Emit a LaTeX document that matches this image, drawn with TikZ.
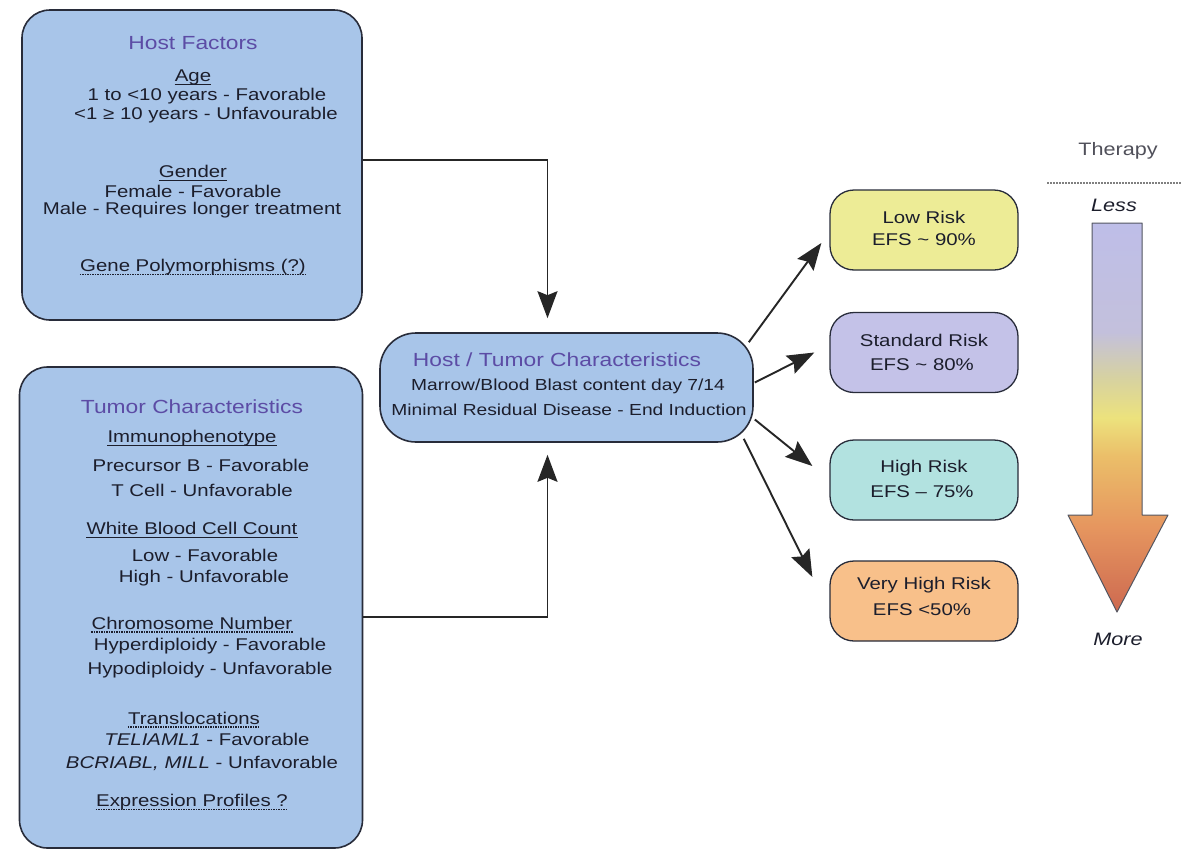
\documentclass[tikz,border=0pt]{standalone}
\usepackage{fontspec}
\setmainfont{Liberation Sans}[FakeStretch=1.2]
\usetikzlibrary{arrows.meta,calc}
\definecolor{boxblue}{RGB}{168,197,233}
\definecolor{edge}{RGB}{40,44,58}
\definecolor{ink}{RGB}{28,30,44}
\definecolor{ttl}{RGB}{92,76,165}
\definecolor{lowc}{RGB}{237,236,150}
\definecolor{stdc}{RGB}{196,194,232}
\definecolor{highc}{RGB}{178,226,224}
\definecolor{vhc}{RGB}{248,192,138}
\definecolor{thgray}{RGB}{80,80,90}
\pgfdeclareverticalshading{therapyshade}{100bp}{%
 color(0bp)=(rgb,255:red,205;green,105;blue,80);
 color(25bp)=(rgb,255:red,205;green,105;blue,80);
 color(36bp)=(rgb,255:red,230;green,150;blue,95);
 color(45bp)=(rgb,255:red,235;green,190;blue,105);
 color(50bp)=(rgb,255:red,236;green,226;blue,125);
 color(55bp)=(rgb,255:red,215;green,210;blue,160);
 color(61bp)=(rgb,255:red,195;green,192;blue,220);
 color(75bp)=(rgb,255:red,190;green,190;blue,232);
 color(100bp)=(rgb,255:red,190;green,190;blue,232)}
\tikzset{
 bluebox/.style={draw=edge, line width=1.6pt, fill=boxblue, rounded corners=28pt, inner sep=0pt},
 riskbox/.style={draw=edge, line width=1.3pt, rounded corners=24pt, inner sep=0pt, minimum width=188pt, minimum height=80pt},
 txt/.style={text=ink, inner sep=0pt, font=\fontsize{17}{19}\selectfont},
 ctxt/.style={text=ink, inner sep=0pt, font=\fontsize{16}{18}\selectfont},
 rtxt/.style={text=ink, inner sep=0pt, font=\fontsize{17}{19}\selectfont},
 title/.style={text=ttl, inner sep=0pt, font=\fontsize{19}{21}\selectfont},
 conn/.style={draw=black!85, line width=1.9pt, -{Stealth[length=27pt,width=20pt,inset=4pt]}},
 solidul/.style={draw=ink, line width=1pt},
 dotul/.style={draw=ink, line width=1.2pt, dash pattern=on 1.2pt off 1.3pt},
}
\begin{document}
\begin{tikzpicture}[x=1pt,y=-1pt]
\useasboundingbox[fill=white] (0,0) rectangle (1181,857);
% boxes
\node[bluebox, minimum width=340pt, minimum height=310pt] (host) at (192,165) {};
\node[bluebox, minimum width=343pt, minimum height=481pt] (tumor) at (191,607.5) {};
\node[bluebox, rounded corners=36pt, minimum width=373pt, minimum height=109pt] (center) at (566.5,387.5) {};
\node[riskbox, fill=lowc] (low) at (924,230) {};
\node[riskbox, fill=stdc] (std) at (924,352.5) {};
\node[riskbox, fill=highc] (high) at (924,480) {};
\node[riskbox, fill=vhc] (vh) at (924,601) {};
% host texts
\node[title] (h0) at (193,43) {Host Factors};
\node[txt] (h1) at (193,77) {Age};
\node[txt] (h2) at (207,96) {1 to <10 years - Favorable};
\node[txt] (h3) at (206,115) {<1 ≥ 10 years - Unfavourable};
\node[txt] (h4) at (193,171) {Gender};
\node[txt] (h5) at (193,191) {Female - Favorable};
\node[txt] (h6) at (192,210) {Male - Requires longer treatment};
\node[txt] (h7) at (193,267) {Gene Polymorphisms (?)};
% tumor texts
\node[title] (t0) at (192,407) {Tumor Characteristics};
\node[txt] (t1) at (192,438) {Immunophenotype};
\node[txt] (t2) at (201,465) {Precursor B - Favorable};
\node[txt] (t3) at (202,490) {T Cell - Unfavorable};
\node[txt] (t4) at (192,528) {White Blood Cell Count};
\node[txt] (t5) at (205,555) {Low - Favorable};
\node[txt] (t6) at (204,578) {High - Unfavorable};
\node[txt] (t7) at (192,623) {Chromosome Number};
\node[txt] (t8) at (210,646) {Hyperdiploidy - Favorable};
\node[txt] (t9) at (210,670) {Hypodiploidy - Unfavorable};
\node[txt] (t10) at (194,718) {Translocations};
\node[txt] (t11) at (207,739) {\textit{TELIAML1} - Favorable};
\node[txt] (t12) at (202,763) {\textit{BCRIABL, MILL} - Unfavorable};
\node[txt] (t13) at (192,802) {Expression Profiles ?};
% underlines
\foreach \n in {h1,h4,t1,t4}
  \draw[solidul] ([yshift=-3pt]\n.base west) -- ([yshift=-3pt]\n.base east);
\foreach \n in {h7,t7,t10,t13}
  \draw[dotul] ([yshift=-3pt]\n.base west) -- ([yshift=-3pt]\n.base east);
% center texts
\node[title] (c0) at (557,360) {Host / Tumor Characteristics};
\node[ctxt] (c1) at (568,386) {Marrow/Blood Blast content day 7/14};
\node[ctxt] (c2) at (569,410) {Minimal Residual Disease - End Induction};
% risk texts
\node[rtxt] (l1) at (924,217) {Low Risk};
\node[rtxt] (l2) at (924,240) {EFS \textasciitilde\ 90\%};
\node[rtxt] (s1) at (924,340) {Standard Risk};
\node[rtxt] (s2) at (922,365) {EFS \textasciitilde\ 80\%};
\node[rtxt] (r1) at (924,468) {High Risk};
\node[rtxt] (r2) at (922,492) {EFS -- 75\%};
\node[rtxt] (v1) at (924,585) {Very High Risk};
\node[rtxt] (v2) at (922,610) {EFS <50\%};
% connectors
\draw[conn, shorten >=14pt] ([yshift=5pt]host.east) -| ([xshift=-19pt]center.north);
\draw[conn, shorten >=12pt] ([yshift=-9.5pt]tumor.east) -| ([xshift=-19pt]center.south);
\draw[conn] ([xshift=-5pt,yshift=-10pt]center.north east) -- ([xshift=-8pt,yshift=-13pt]low.west);
\draw[conn] ([xshift=1pt,yshift=5pt]center.east) -- ([xshift=-15pt]std.west);
\draw[conn] ([xshift=1pt,yshift=-32pt]center.east) -- ([xshift=-17pt,yshift=14pt]high.west);
\draw[conn] ([xshift=-10pt,yshift=4pt]center.south east) -- ([xshift=-17pt,yshift=24pt]vh.west);
% therapy
\node[text=thgray, inner sep=0pt, font=\fontsize{18}{20}\selectfont] (th) at (1118,151) {Therapy};
\coordinate (d1) at (1047,183);
\coordinate (d2) at (1181,183);
\draw[gray, line width=1.2pt, dash pattern=on 1.5pt off 1.5pt] (d1) -- (d2);
\node[text=ink, inner sep=0pt, font=\fontsize{18}{20}\selectfont\itshape] (less) at (1114,205) {Less};
\node[text=ink, inner sep=0pt, font=\fontsize{18}{20}\selectfont\itshape] (more) at (1118,639) {More};
\path[shading=therapyshade] (1092,223) -- (1142,223) -- (1142,515) -- (1168,515) -- (1117,612) -- (1068,515) -- (1092,515) -- cycle;
\draw[draw=edge!80, line width=1pt, line join=round] (1092,223) -- (1142,223) -- (1142,515) -- (1168,515) -- (1117,612) -- (1068,515) -- (1092,515) -- cycle;
\end{tikzpicture}
\end{document}
